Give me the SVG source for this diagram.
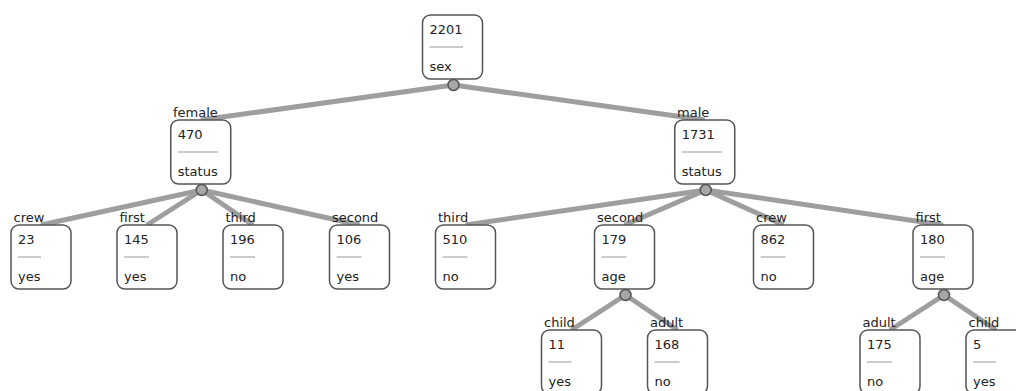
<svg xmlns="http://www.w3.org/2000/svg" width="1016" height="391" viewBox="0 0 1016 391">
<style>
  .box{fill:#fff;stroke:#555;stroke-width:1.5}
  .sep{stroke:#ccc;stroke-width:2}
  .dot{fill:#a6a6a6;stroke:#555;stroke-width:1.5}
  .edge{stroke:#9e9e9e;stroke-width:5;fill:none}
  text{font-family:"DejaVu Sans","Verdana",sans-serif;font-size:13px;fill:#222}
</style>
<rect width="1016" height="391" fill="#fff"/>
<g id="connectors">
  <line class="edge" x1="453.5" y1="85" x2="200.75" y2="120"/>
  <line class="edge" x1="453.5" y1="85" x2="704.75" y2="120"/>
  <line class="edge" x1="201.75" y1="190" x2="41" y2="225"/>
  <line class="edge" x1="201.75" y1="190" x2="147" y2="225"/>
  <line class="edge" x1="201.75" y1="190" x2="253" y2="225"/>
  <line class="edge" x1="201.75" y1="190" x2="359.5" y2="225"/>
  <line class="edge" x1="705.75" y1="190" x2="465.5" y2="225"/>
  <line class="edge" x1="705.75" y1="190" x2="624.5" y2="225"/>
  <line class="edge" x1="705.75" y1="190" x2="783.5" y2="225"/>
  <line class="edge" x1="705.75" y1="190" x2="943" y2="225"/>
  <line class="edge" x1="625.5" y1="295" x2="571.5" y2="330"/>
  <line class="edge" x1="625.5" y1="295" x2="677.5" y2="330"/>
  <line class="edge" x1="944" y1="295" x2="890" y2="330"/>
  <line class="edge" x1="944" y1="295" x2="996" y2="330"/>
</g>
<g id="n-root">
  <rect class="box" x="422.5" y="15" width="60" height="64" rx="8"/>
  <text x="429.5" y="34">2201</text>
  <line class="sep" x1="429.5" y1="47" x2="463" y2="47"/>
  <text x="429.5" y="70.5">sex</text>
  <circle class="dot" cx="453.5" cy="85" r="5.5"/>
</g>
<g id="n-female">
  <text x="173" y="117">female</text>
  <rect class="box" x="170.75" y="120" width="60" height="64" rx="8"/>
  <text x="177.75" y="138.5">470</text>
  <line class="sep" x1="177.75" y1="152" x2="217.75" y2="152"/>
  <text x="177.75" y="175.5">status</text>
  <circle class="dot" cx="201.75" cy="190" r="5.5"/>
</g>
<g id="n-male">
  <text x="677" y="117">male</text>
  <rect class="box" x="674.75" y="120" width="60" height="64" rx="8"/>
  <text x="681.75" y="138.5">1731</text>
  <line class="sep" x1="681.75" y1="152" x2="721.75" y2="152"/>
  <text x="681.75" y="175.5">status</text>
  <circle class="dot" cx="705.75" cy="190" r="5.5"/>
</g>
<g id="n-f-crew">
  <text x="13.5" y="222">crew</text>
  <rect class="box" x="11" y="225" width="60" height="64" rx="8"/>
  <text x="18" y="243.5">23</text>
  <line class="sep" x1="18" y1="257" x2="41" y2="257"/>
  <text x="18" y="280.5">yes</text>
</g>
<g id="n-f-first">
  <text x="119.5" y="222">first</text>
  <rect class="box" x="117" y="225" width="60" height="64" rx="8"/>
  <text x="124" y="243.5">145</text>
  <line class="sep" x1="124" y1="257" x2="149" y2="257"/>
  <text x="124" y="280.5">yes</text>
</g>
<g id="n-f-third">
  <text x="225.5" y="222">third</text>
  <rect class="box" x="223" y="225" width="60" height="64" rx="8"/>
  <text x="230" y="243.5">196</text>
  <line class="sep" x1="230" y1="257" x2="255" y2="257"/>
  <text x="230" y="280.5">no</text>
</g>
<g id="n-f-second">
  <text x="332" y="222">second</text>
  <rect class="box" x="329.5" y="225" width="60" height="64" rx="8"/>
  <text x="336.5" y="243.5">106</text>
  <line class="sep" x1="336.5" y1="257" x2="361.5" y2="257"/>
  <text x="336.5" y="280.5">yes</text>
</g>
<g id="n-m-third">
  <text x="438" y="222">third</text>
  <rect class="box" x="435.5" y="225" width="60" height="64" rx="8"/>
  <text x="442.5" y="243.5">510</text>
  <line class="sep" x1="442.5" y1="257" x2="467.5" y2="257"/>
  <text x="442.5" y="280.5">no</text>
</g>
<g id="n-m-second">
  <text x="597" y="222">second</text>
  <rect class="box" x="594.5" y="225" width="60" height="64" rx="8"/>
  <text x="601.5" y="243.5">179</text>
  <line class="sep" x1="601.5" y1="257" x2="626.5" y2="257"/>
  <text x="601.5" y="280.5">age</text>
  <circle class="dot" cx="625.5" cy="295" r="5.5"/>
</g>
<g id="n-m-crew">
  <text x="756" y="222">crew</text>
  <rect class="box" x="753.5" y="225" width="60" height="64" rx="8"/>
  <text x="760.5" y="243.5">862</text>
  <line class="sep" x1="760.5" y1="257" x2="785.5" y2="257"/>
  <text x="760.5" y="280.5">no</text>
</g>
<g id="n-m-first">
  <text x="915.5" y="222">first</text>
  <rect class="box" x="913" y="225" width="60" height="64" rx="8"/>
  <text x="920" y="243.5">180</text>
  <line class="sep" x1="920" y1="257" x2="945" y2="257"/>
  <text x="920" y="280.5">age</text>
  <circle class="dot" cx="944" cy="295" r="5.5"/>
</g>
<g id="n-s-child">
  <text x="544" y="327">child</text>
  <rect class="box" x="541.5" y="330" width="60" height="64" rx="8"/>
  <text x="548.5" y="348.5">11</text>
  <line class="sep" x1="548.5" y1="362" x2="571.5" y2="362"/>
  <text x="548.5" y="385.5">yes</text>
</g>
<g id="n-s-adult">
  <text x="650" y="327">adult</text>
  <rect class="box" x="647.5" y="330" width="60" height="64" rx="8"/>
  <text x="654.5" y="348.5">168</text>
  <line class="sep" x1="654.5" y1="362" x2="679.5" y2="362"/>
  <text x="654.5" y="385.5">no</text>
</g>
<g id="n-fi-adult">
  <text x="862.5" y="327">adult</text>
  <rect class="box" x="860" y="330" width="60" height="64" rx="8"/>
  <text x="867" y="348.5">175</text>
  <line class="sep" x1="867" y1="362" x2="892" y2="362"/>
  <text x="867" y="385.5">no</text>
</g>
<g id="n-fi-child">
  <text x="968.5" y="327">child</text>
  <rect class="box" x="966" y="330" width="60" height="64" rx="8"/>
  <text x="973" y="348.5">5</text>
  <line class="sep" x1="973" y1="362" x2="996" y2="362"/>
  <text x="973" y="385.5">yes</text>
</g>
</svg>
